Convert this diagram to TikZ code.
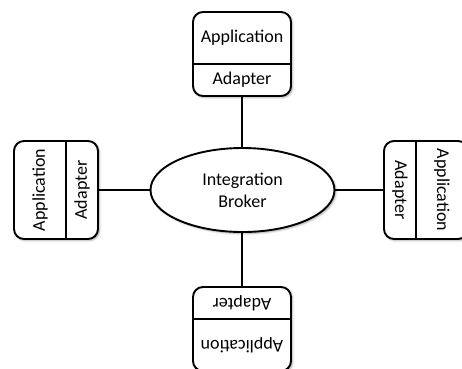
\documentclass[tikz,border=0pt]{standalone}
\usepackage{fontspec}
\setmainfont{Carlito}
\usetikzlibrary{shapes.geometric,calc,shadows.blur}

\tikzset{
  softshadow/.style={blur shadow={shadow xshift=1.5pt, shadow yshift=-1.5pt,
      shadow blur radius=2pt, shadow opacity=35}},
  appbox/.style={draw, line width=1.9pt, rounded corners=10pt, fill=white,
      minimum width=98pt, minimum height=84pt, inner sep=0pt, softshadow},
  broker/.style={draw, ellipse, line width=1.9pt, fill=white,
      minimum width=184pt, minimum height=84pt, inner sep=0pt, softshadow},
  lbl/.style={font=\fontsize{18}{22}\selectfont, text=black, inner sep=0pt},
  link/.style={line width=1.9pt},
  divider/.style={line width=1.6pt},
}

% one application block: outer box, divider, two labels
\newcommand{\appblock}[1]{%
  \node[appbox] (#1) at (0,0) {};
  \draw[divider] ($(#1.north west)!52/84!(#1.south west)$)
              -- ($(#1.north east)!52/84!(#1.south east)$);
  \node[lbl] (#1-app) at (0,16) {Application};
  \node[lbl] (#1-ad)  at (0,-26) {Adapter};
}

\begin{document}
\begin{tikzpicture}[x=1pt,y=1pt]
  \useasboundingbox (0,0) rectangle (462,-368);

  \begin{scope}[shift={(242,-54)}, transform shape]
    \appblock{top}
  \end{scope}
  \begin{scope}[shift={(56,-190)}, rotate=90, transform shape]
    \appblock{left}
  \end{scope}
  \begin{scope}[shift={(426,-190)}, rotate=-90, transform shape]
    \appblock{right}
  \end{scope}
  \begin{scope}[shift={(242,-329)}, rotate=180, transform shape]
    \appblock{bottom}
  \end{scope}

  \node[broker, align=center, font=\fontsize{18}{22}\selectfont, text=black]
    (br) at (242.5,-190) {Integration\\Broker};

  \draw[link] (top.south) -- (top.south |- br.north);
  \draw[link] (bottom.south) -- (bottom.south |- br.south);
  \draw[link] (left.south) -- (left.south -| br.west);
  \draw[link] (right.south) -- (right.south -| br.east);
\end{tikzpicture}
\end{document}
